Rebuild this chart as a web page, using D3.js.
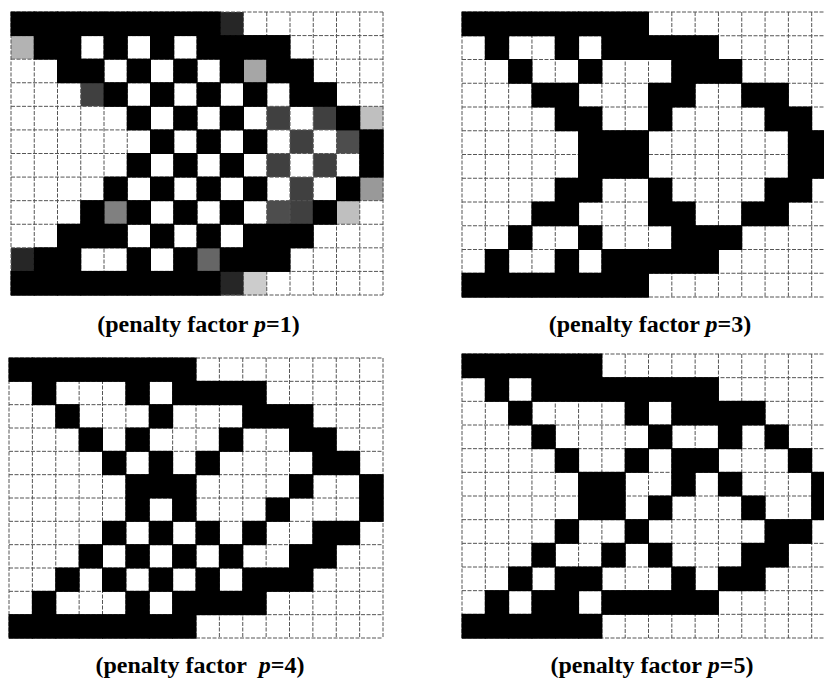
<!DOCTYPE html>
<html>
<head>
<meta charset="utf-8">
<script src="https://cdn.jsdelivr.net/npm/d3@7/dist/d3.min.js"></script>
<style>
  html, body { margin: 0; padding: 0; background: #fff; }
  svg { display: block; }
</style>
</head>
<body>
<script>
// Element densities (0 = void/white, 1 = solid/black), rows top to bottom, 16 columns each
const gridP1 = [
  [1,1,1,1,1,1,1,1,1,0.85,0,0,0,0,0,0],
  [0.3,1,1,0,1,0,1,0,1,1,1,1,0,0,0,0],
  [0,0,1,1,0,1,0,1,0,1,0.35,1,1,0,0,0],
  [0,0,0,0.75,1,0,1,0,1,0,1,0,1,1,0,0],
  [0,0,0,0,0,1,0,1,0,1,0,0.75,0,0.75,1,0.25],
  [0,0,0,0,0,0,1,0,1,0,1,0,0.75,0,0.7,1],
  [0,0,0,0,0,1,0,1,0,1,0,0.75,0,0.75,0,1],
  [0,0,0,0,1,0,1,0,1,0,1,0,0.75,0,1,0.4],
  [0,0,0,1,0.5,1,0,1,0,1,0,0.7,0.75,1,0.25,0],
  [0,0,1,1,1,0,1,0,1,0,1,1,1,0,0,0],
  [0.85,1,1,0,0,1,0,1,0.6,1,1,1,0,0,0,0],
  [1,1,1,1,1,1,1,1,1,0.85,0.2,0,0,0,0,0]
];
const gridP3 = [
  [1,1,1,1,1,1,1,1,0,0,0,0,0,0,0,0],
  [0,1,0,0,1,0,1,1,1,1,1,0,0,0,0,0],
  [0,0,1,0,0,1,0,0,0,1,1,1,0,0,0,0],
  [0,0,0,1,1,0,0,0,1,1,0,0,1,1,0,0],
  [0,0,0,0,1,1,0,0,1,0,0,0,0,1,1,0],
  [0,0,0,0,0,1,1,1,0,0,0,0,0,0,1,1],
  [0,0,0,0,0,1,1,1,0,0,0,0,0,0,1,1],
  [0,0,0,0,1,1,0,0,1,0,0,0,0,1,1,0],
  [0,0,0,1,1,0,0,0,1,1,0,0,1,1,0,0],
  [0,0,1,0,0,1,0,0,0,1,1,1,0,0,0,0],
  [0,1,0,0,1,0,1,1,1,1,1,0,0,0,0,0],
  [1,1,1,1,1,1,1,1,0,0,0,0,0,0,0,0]
];
const gridP4 = [
  [1,1,1,1,1,1,1,1,0,0,0,0,0,0,0,0],
  [0,1,0,0,0,1,0,1,1,1,1,0,0,0,0,0],
  [0,0,1,0,0,0,1,0,0,0,1,1,1,0,0,0],
  [0,0,0,1,0,1,0,0,0,1,0,0,1,1,0,0],
  [0,0,0,0,1,0,1,0,1,0,0,0,0,1,1,0],
  [0,0,0,0,0,1,1,1,0,0,0,0,1,0,0,1],
  [0,0,0,0,0,1,0,1,0,0,0,1,0,0,0,1],
  [0,0,0,0,1,0,1,0,1,0,1,0,0,1,1,0],
  [0,0,0,1,0,1,0,1,0,1,0,0,1,1,0,0],
  [0,0,1,0,1,0,1,0,1,0,1,1,1,0,0,0],
  [0,1,0,0,0,1,0,1,1,1,1,0,0,0,0,0],
  [1,1,1,1,1,1,1,1,0,0,0,0,0,0,0,0]
];
const gridP5 = [
  [1,1,1,1,1,1,0,0,0,0,0,0,0,0,0,0],
  [0,1,0,1,1,1,1,1,1,1,1,0,0,0,0,0],
  [0,0,1,0,0,0,0,1,0,1,1,1,1,0,0,0],
  [0,0,0,1,0,0,0,0,1,0,0,1,0,1,0,0],
  [0,0,0,0,1,0,0,1,0,1,1,0,0,0,1,0],
  [0,0,0,0,0,1,1,0,0,1,0,1,0,0,0,1],
  [0,0,0,0,0,1,1,0,1,0,0,0,1,0,0,1],
  [0,0,0,0,1,0,0,1,0,0,0,0,0,1,1,0],
  [0,0,0,1,0,0,1,0,1,0,0,0,1,1,0,0],
  [0,0,1,0,1,1,0,0,0,1,0,1,1,0,0,0],
  [0,1,0,1,1,0,1,1,1,1,1,0,0,0,0,0],
  [1,1,1,1,1,1,0,0,0,0,0,0,0,0,0,0]
];
const penaltyFactors = [1, 3, 4, 5];
const captionPrefixes = ["(penalty factor ", "(penalty factor ", "(penalty factor\u00a0\u00a0", "(penalty factor\u00a0"];
const grids = [gridP1, gridP3, gridP4, gridP5];

// layout (pixels)
const W = 824, H = 682;
const nCols = 16, nRows = 12;
const panels = [
  {x: 11,  y: 12,  w: 372, h: 283, cx: 198.5, cy: 332},
  {x: 462, y: 12,  w: 373, h: 285, cx: 650,   cy: 332},
  {x: 9,   y: 358, w: 374, h: 280, cx: 200,   cy: 673},
  {x: 462, y: 354, w: 373, h: 284, cx: 652,   cy: 673}
];

const svg = d3.select("body").append("svg")
  .attr("width", W).attr("height", H)
  .attr("viewBox", `0 0 ${W} ${H}`);

const color = d3.scaleLinear().domain([0, 1]).range(["#ffffff", "#000000"]);

panels.forEach((p, i) => {
  const grid = grids[i];
  const x = d3.scaleBand().domain(d3.range(nCols)).range([p.x, p.x + p.w]).paddingInner(0);
  const y = d3.scaleBand().domain(d3.range(nRows)).range([p.y, p.y + p.h]).paddingInner(0);
  const g = svg.append("g");

  const cells = [];
  grid.forEach((row, r) => row.forEach((v, c) => cells.push({r, c, v})));

  g.selectAll("rect.cell").data(cells).join("rect")
    .attr("class", "cell")
    .attr("x", d => x(d.c))
    .attr("y", d => y(d.r))
    .attr("width", x.bandwidth() + 0.5)
    .attr("height", y.bandwidth() + 0.5)
    .attr("fill", d => color(d.v));

  const lines = g.append("g")
    .attr("stroke", "#555")
    .attr("stroke-width", 1)
    .attr("stroke-dasharray", "4,1.5");
  d3.range(nCols + 1).forEach(k => {
    const xx = k < nCols ? x(k) : p.x + p.w;
    lines.append("line").attr("x1", xx).attr("x2", xx).attr("y1", p.y).attr("y2", p.y + p.h);
  });
  d3.range(nRows + 1).forEach(k => {
    const yy = k < nRows ? y(k) : p.y + p.h;
    lines.append("line").attr("x1", p.x).attr("x2", p.x + p.w).attr("y1", yy).attr("y2", yy);
  });

  // solid cells on top so grid lines vanish there
  g.selectAll("rect.solid").data(cells.filter(d => d.v >= 0.95)).join("rect")
    .attr("class", "solid")
    .attr("x", d => x(d.c) - 0.5)
    .attr("y", d => y(d.r) - 0.5)
    .attr("width", x.bandwidth() + 1)
    .attr("height", y.bandwidth() + 1)
    .attr("fill", "#000");

  const t = svg.append("text")
    .attr("x", p.cx).attr("y", p.cy)
    .attr("text-anchor", "middle")
    .attr("font-family", "'Liberation Serif', 'Times New Roman', serif")
    .attr("font-weight", "bold")
    .attr("font-size", 24)
    .attr("fill", "#000");
  t.append("tspan").text(captionPrefixes[i]);
  t.append("tspan").attr("font-style", "italic").text("p");
  t.append("tspan").text("=" + penaltyFactors[i] + ")");
});
</script>
</body>
</html>
